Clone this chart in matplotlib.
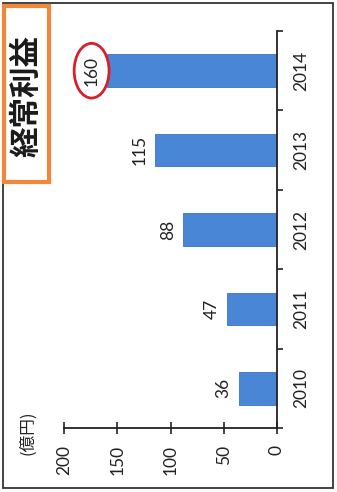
import matplotlib
matplotlib.use("Agg")
import matplotlib.pyplot as plt
from matplotlib.patches import Rectangle

years = ["2010", "2011", "2012", "2013", "2014"]
values = [36, 47, 88, 115, 160]
value_ticks = [0, 50, 100, 150, 200]
title = "経常利益"
unit = "(億円)"

W, H = 337, 492
fig = plt.figure(figsize=(W / 100, H / 100), dpi=100)
fig.patch.set_facecolor("white")

def fx(px):
    return px / W

def fy(py):
    return 1 - py / H

ax = fig.add_axes([fx(64), fy(428), fx(277) - fx(64), fy(31) - fy(428)])
ax.set_facecolor("none")
pos = list(range(len(years)))
ax.barh(pos, values, height=0.41, color="#4a86d6", edgecolor="#3b73c4", linewidth=0.6, zorder=2)
ax.set_xlim(200, 0)
ax.set_ylim(-0.5, len(years) - 0.5)

for s in ["top", "left"]:
    ax.spines[s].set_visible(False)
for s in ["right", "bottom"]:
    ax.spines[s].set_color("#222222")
    ax.spines[s].set_linewidth(1.3)

numfont = ["Lato", "Noto Sans CJK JP"]

ax.set_xticks(value_ticks)
ax.set_xticklabels([str(v) for v in value_ticks], rotation=90, family=numfont, fontsize=12.5, color="#222222")
ax.tick_params(axis="x", direction="inout", length=8, width=1.2, pad=8, colors="#222222")

ax.yaxis.tick_right()
ax.set_yticks(pos)
ax.set_yticklabels(years, rotation=90, family=numfont, fontsize=12.5, va="center", color="#222222")
ax.tick_params(axis="y", which="major", length=0, pad=12)
ax.set_yticks([p - 0.5 for p in pos] + [len(years) - 0.5], minor=True)
ax.tick_params(axis="y", which="minor", direction="out", length=4, width=1.2, colors="#222222")

for i, (p, v) in enumerate(zip(pos, values)):
    kw = {}
    if i == len(values) - 1:
        kw["bbox"] = dict(boxstyle="ellipse,pad=0.25", fc="white", ec="#d8202a", lw=2)
    ax.annotate(str(v), xy=(v, p), xytext=(-15, 0), textcoords="offset pixels",
                ha="center", va="center", rotation=90, family=numfont,
                fontsize=12.5, color="#222222", **kw)

# unit label
fig.text(fx(28), fy(433), unit, rotation=90, ha="center", va="center",
         family=["Noto Sans CJK JP", "DejaVu Sans"], fontsize=12, color="#222222")

# outer frame
fig.add_artist(Rectangle((fx(3), fy(488)), fx(333) - fx(3), fy(3) - fy(488),
                         transform=fig.transFigure, fill=False, ec="#333333", lw=1.3))

# title box
fig.add_artist(Rectangle((fx(4), fy(182)), fx(49) - fx(4), fy(6) - fy(182),
                         transform=fig.transFigure, fc="white", ec="#f0873a", lw=3))
fig.text(fx(26), fy(96), title, rotation=90, ha="center", va="center",
         family=["Noto Sans CJK JP", "DejaVu Sans"], fontsize=22, fontweight="bold", color="#1a1a1a")

fig.savefig("out.png", dpi=100, facecolor="white")
